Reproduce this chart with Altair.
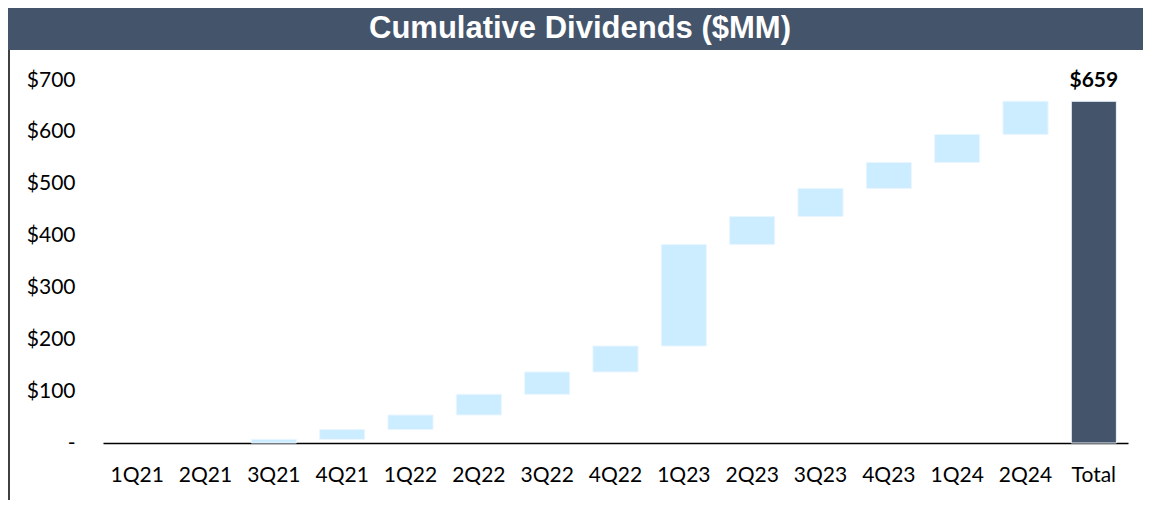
import altair as alt
import pandas as pd

categories = ["1Q21", "2Q21", "3Q21", "4Q21", "1Q22", "2Q22", "3Q22", "4Q22",
              "1Q23", "2Q23", "3Q23", "4Q23", "1Q24", "2Q24"]
cumulative = [0, 0, 7, 26, 54, 94, 137, 187, 383, 437, 491, 541, 595, 659]
total_label = "Total"
total_value = 659
y_ticks = [0, 100, 200, 300, 400, 500, 600, 700]
title_text = "Cumulative Dividends ($MM)"

starts = [0] + cumulative[:-1]
rows = [{"cat": c, "start": s, "end": e, "kind": "step"}
        for c, s, e in zip(categories, starts, cumulative)]
rows.append({"cat": total_label, "start": 0, "end": total_value, "kind": "total"})
df = pd.DataFrame(rows)
df_bars = df[df["end"] > df["start"]]
order = categories + [total_label]

W, H = 1025, 363
LABEL_FONT = "Lato"

x = alt.X("cat:N", sort=order,
          scale=alt.Scale(domain=order, paddingInner=0.34, paddingOuter=0.17),
          axis=alt.Axis(title=None, labelAngle=0, ticks=False, domainColor="black",
                        domainWidth=1.6, labelFont=LABEL_FONT, labelFontSize=21,
                        labelColor="black", labelPadding=21))
y = alt.Y("start:Q", scale=alt.Scale(domain=[0, 700], nice=False),
          axis=alt.Axis(title=None, values=y_ticks, grid=False, domain=False, ticks=False,
                        labelFont=LABEL_FONT, labelFontSize=21, labelColor="black",
                        labelPadding=28,
                        labelExpr="datum.value == 0 ? '-' : '$' + datum.value"))

bars = alt.Chart(df_bars).mark_bar(stroke="#EAF6FF", strokeWidth=1).encode(
    x=x, y=y, y2="end:Q",
    color=alt.Color("kind:N", scale=alt.Scale(domain=["step", "total"],
                                              range=["#CCECFF", "#44546A"]), legend=None),
)

label = alt.Chart(df[df["kind"] == "total"]).mark_text(
    font=LABEL_FONT, fontSize=21, fontWeight="bold", color="black", dy=-10, baseline="bottom"
).encode(x=alt.X("cat:N", sort=order), y="end:Q",
         text=alt.Text("end:Q", format="$,.0f"))

banner_df = pd.DataFrame({"t": [title_text]})
banner = alt.Chart(banner_df).mark_rect(color="#44546A", clip=False).encode(
    x=alt.value(-95), x2=alt.value(1040), y=alt.value(-72), y2=alt.value(-30))
banner_text = alt.Chart(banner_df).mark_text(
    font="Liberation Sans Narrow, Arial Narrow, sans-serif", fontSize=31, fontWeight="bold",
    color="white", baseline="middle", align="center", clip=False
).encode(x=alt.value(477), y=alt.value(-51), text="t:N")

border = alt.Chart(banner_df).mark_rule(color="black", strokeWidth=1.5, clip=False).encode(
    x=alt.value(-94), y=alt.value(-30), y2=alt.value(420))

chart = alt.layer(banner, banner_text, border, bars, label).properties(
    width=W, height=H,
    background="white",
    autosize=alt.AutoSizeParams(type="none"),
    padding={"left": 95, "top": 72, "right": 15, "bottom": 57},
).configure_view(strokeWidth=0, stroke="transparent")

chart.save("out.html", embed_options={"renderer": "svg", "actions": False})
